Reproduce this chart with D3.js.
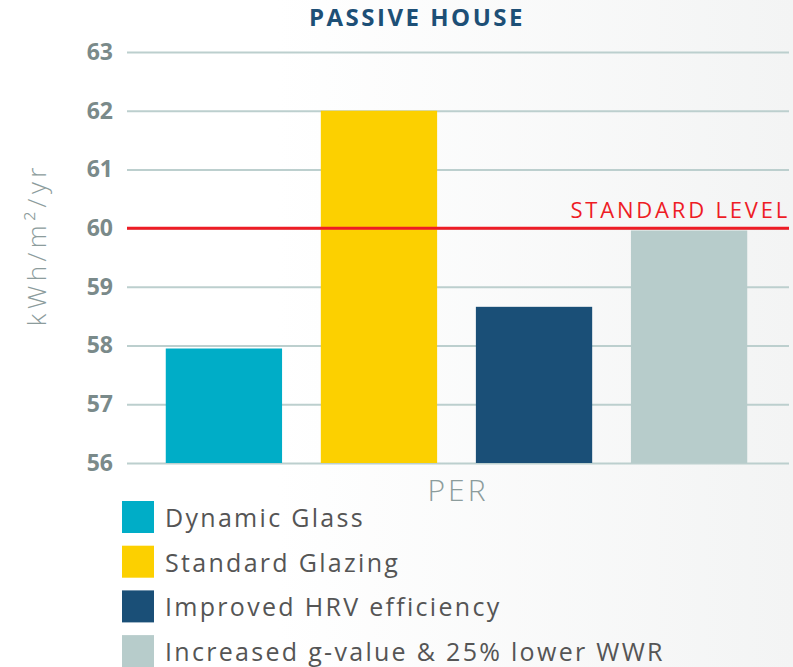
<!DOCTYPE html>
<html>
<head>
<meta charset="utf-8">
<script src="https://cdn.jsdelivr.net/npm/d3@7"></script>
<style>
  body { margin: 0; background: #fff; }
  svg { display: block; }
</style>
</head>
<body>
<div id="chart"></div>
<script>
// chart data
const categories = ["Dynamic Glass", "Standard Glazing", "Improved HRV efficiency", "Increased g-value & 25% lower WWR"];
const values = [57.95, 62.0, 58.66, 59.96];
const colors = ["#00adc7", "#fcd000", "#1a4f77", "#b7cccb"];
const yTicks = [56, 57, 58, 59, 60, 61, 62, 63];
const standardLevel = 60;

const width = 793, height = 667;
const margin = {top: 52, right: 4, bottom: 204, left: 127};

const svg = d3.select("#chart").append("svg")
    .attr("width", width)
    .attr("height", height);

// soft grey wash on the right like the source
const grad = svg.append("defs").append("linearGradient")
    .attr("id", "bg").attr("x1", "0").attr("x2", "1").attr("y1", "0").attr("y2", "0");
grad.append("stop").attr("offset", "0.35").attr("stop-color", "#ffffff");
grad.append("stop").attr("offset", "1").attr("stop-color", "#f3f4f4");
svg.append("rect").attr("width", width).attr("height", height).attr("fill", "url(#bg)");

const x = d3.scaleBand()
    .domain(categories)
    .range([margin.left, width - margin.right - 3])
    .paddingInner(0.25)
    .paddingOuter(0.25);

const y = d3.scaleLinear()
    .domain([56, 63])
    .range([height - margin.bottom, margin.top]);

// gridlines + tick labels
const yAxis = svg.append("g")
    .attr("transform", `translate(${margin.left},0)`)
    .call(d3.axisLeft(y).tickValues(yTicks).tickSize(-(width - margin.left - margin.right)).tickPadding(14).tickFormat(d3.format("d")));
yAxis.select(".domain").remove();
yAxis.selectAll(".tick line").attr("stroke", "#bccfce").attr("stroke-width", 2);
yAxis.selectAll(".tick text")
    .attr("fill", "#7a8a8a")
    .style("font-family", "'Open Sans', sans-serif")
    .style("font-weight", 700)
    .style("font-size", "23px");

// bars
svg.append("g").selectAll("rect")
    .data(values)
    .join("rect")
    .attr("x", (d, i) => x(categories[i]))
    .attr("y", d => y(d))
    .attr("width", x.bandwidth())
    .attr("height", d => y(56) - y(d))
    .attr("fill", (d, i) => colors[i]);

// standard level line
svg.append("line")
    .attr("x1", margin.left)
    .attr("x2", width - margin.right)
    .attr("y1", y(standardLevel))
    .attr("y2", y(standardLevel))
    .attr("stroke", "#ee1c25")
    .attr("stroke-width", 3);
svg.append("text")
    .attr("x", width - 3)
    .attr("y", y(standardLevel) - 10)
    .attr("text-anchor", "end")
    .attr("fill", "#ee1c25")
    .style("font-family", "'Open Sans', sans-serif")
    .style("font-size", "22px")
    .style("letter-spacing", "2.8px")
    .text("STANDARD LEVEL");

// title
svg.append("text")
    .attr("x", 417)
    .attr("y", 26)
    .attr("text-anchor", "middle")
    .attr("fill", "#1d4f76")
    .style("font-family", "'Open Sans', sans-serif")
    .style("font-weight", 700)
    .style("font-size", "24px")
    .style("letter-spacing", "2.5px")
    .text("PASSIVE HOUSE");

// y axis title
svg.append("text")
    .attr("transform", `translate(46,${y(59.72)}) rotate(-90)`)
    .attr("text-anchor", "middle")
    .attr("fill", "#8c9c9c")
    .style("font-family", "'Open Sans', sans-serif")
    .style("font-weight", 300)
    .style("font-size", "26px")
    .style("letter-spacing", "4.5px")
    .text("kWh/m²/yr");

// x label
svg.append("text")
    .attr("x", (margin.left + width - margin.right) / 2)
    .attr("y", 501)
    .attr("text-anchor", "middle")
    .attr("fill", "#8c9c9c")
    .style("font-family", "'Open Sans', sans-serif")
    .style("font-weight", 300)
    .style("font-size", "30px")
    .style("letter-spacing", "3px")
    .text("PER");

// legend
const legend = svg.append("g").attr("transform", "translate(122,501)");
const item = legend.selectAll("g")
    .data(categories)
    .join("g")
    .attr("transform", (d, i) => `translate(0,${i * 44.7})`);
item.append("rect")
    .attr("width", 32)
    .attr("height", 32)
    .attr("fill", (d, i) => colors[i]);
item.append("text")
    .attr("x", 43)
    .attr("y", 26)
    .attr("fill", "#555")
    .style("font-family", "'Open Sans', sans-serif")
    .style("font-size", "25px")
    .style("letter-spacing", "2.3px")
    .text(d => d);
</script>
</body>
</html>
